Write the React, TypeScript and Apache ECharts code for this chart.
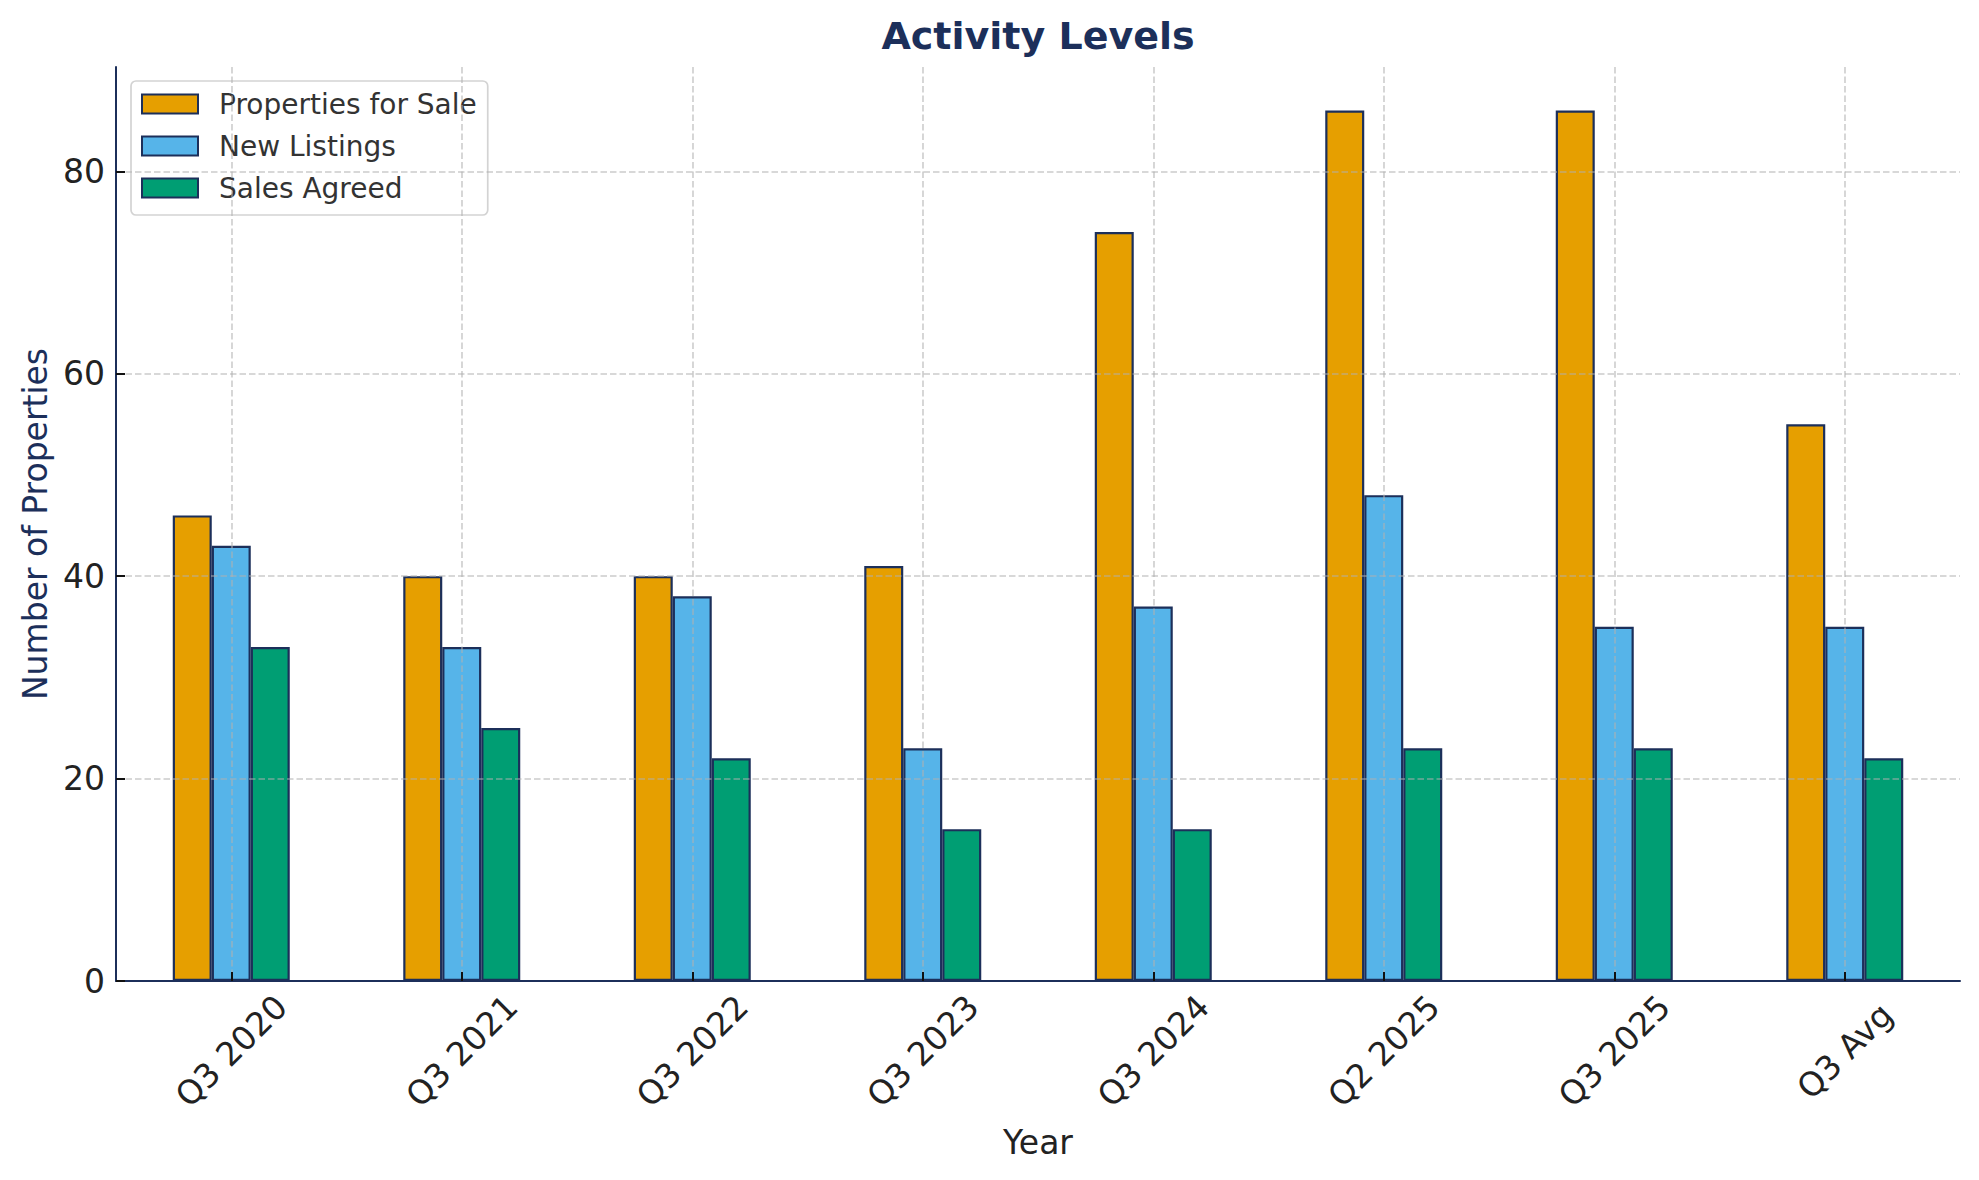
import React, { useEffect, useRef } from 'react';
import * as echarts from 'echarts';

const categories = ['Q3 2020', 'Q3 2021', 'Q3 2022', 'Q3 2023', 'Q3 2024', 'Q2 2025', 'Q3 2025', 'Q3 Avg'];
const propertiesForSale = [46, 40, 40, 41, 74, 86, 86, 55];
const newListings = [43, 33, 38, 23, 37, 48, 35, 35];
const salesAgreed = [33, 25, 22, 15, 15, 23, 23, 22];
const seriesNames = ['Properties for Sale', 'New Listings', 'Sales Agreed'];
const seriesColors = ['#E69F00', '#56B4E9', '#009E73'];
const yMin = 0;
const yMax = 90.3;
const yInterval = 20;

const NAVY = '#1c2f5a';
const FONT = 'DejaVu Sans';
const GRID_LINE = { type: [6.5, 3], color: 'rgba(176,176,176,0.65)', width: 1.6 };

export default function App() {
  const ref = useRef<HTMLDivElement>(null);
  useEffect(() => {
    if (!ref.current) return;
    const chart = echarts.init(ref.current, undefined, { renderer: 'svg' });
    const dataSets = [propertiesForSale, newListings, salesAgreed];
    chart.setOption({
      animation: false,
      backgroundColor: '#ffffff',
      title: {
        text: 'Activity Levels',
        left: 1038,
        top: 17,
        textAlign: 'center',
        padding: 0,
        textStyle: { fontFamily: FONT, fontSize: 38, fontWeight: 'bold', color: NAVY },
      },
      legend: {
        orient: 'vertical',
        left: 131,
        top: 81,
        padding: [9, 11, 13, 10],
        itemWidth: 56,
        itemHeight: 19,
        itemGap: 14,
        icon: 'rect',
        backgroundColor: 'rgba(255,255,255,0.8)',
        borderColor: '#d3d3d3',
        borderWidth: 1.7,
        borderRadius: 5,
        textStyle: { fontFamily: FONT, fontSize: 28, color: '#333333', padding: [0, 0, 0, 16] },
        data: seriesNames,
      },
      grid: { left: 116, right: 19, top: 67, bottom: 199, containLabel: false },
      xAxis: {
        type: 'category',
        data: categories,
        z: 5,
        name: 'Year',
        nameLocation: 'middle',
        nameGap: 161,
        nameTextStyle: { fontFamily: FONT, fontSize: 33, color: '#222222', verticalAlign: 'middle' },
        axisLine: { show: true, lineStyle: { color: NAVY, width: 2 } },
        axisTick: { show: true, inside: true, length: 9, alignWithLabel: true, lineStyle: { color: '#111111', width: 2 } },
        axisLabel: {
          rotate: 45,
          align: 'center',
          verticalAlign: 'middle',
          margin: 70,
          fontFamily: FONT,
          fontSize: 33,
          color: '#222222',
          interval: 0,
        },
        splitLine: { show: true, alignWithLabel: true, lineStyle: GRID_LINE },
      },
      yAxis: {
        type: 'value',
        min: yMin,
        max: yMax,
        interval: yInterval,
        z: 5,
        name: 'Number of Properties',
        nameLocation: 'middle',
        nameGap: 81,
        nameRotate: 90,
        nameTextStyle: { fontFamily: FONT, fontSize: 33, color: NAVY, verticalAlign: 'middle' },
        axisLine: { show: true, lineStyle: { color: NAVY, width: 2 } },
        axisTick: { show: true, inside: true, length: 9, lineStyle: { color: '#111111', width: 2 } },
        axisLabel: { showMaxLabel: false, margin: 11, fontFamily: FONT, fontSize: 33, color: '#222222' },
        splitLine: { show: true, showMaxLine: false, showMinLine: false, lineStyle: GRID_LINE },
      },
      series: seriesNames.map((name, i) => ({
        name,
        type: 'bar',
        data: dataSets[i],
        barWidth: 39,
        barGap: '0%',
        itemStyle: { color: seriesColors[i], borderColor: NAVY, borderWidth: 2.2 },
      })),
    });
    return () => chart.dispose();
  }, []);
  return <div ref={ref} style={{ position: 'fixed', left: 0, top: 0, width: 1979, height: 1180 }} />;
}
